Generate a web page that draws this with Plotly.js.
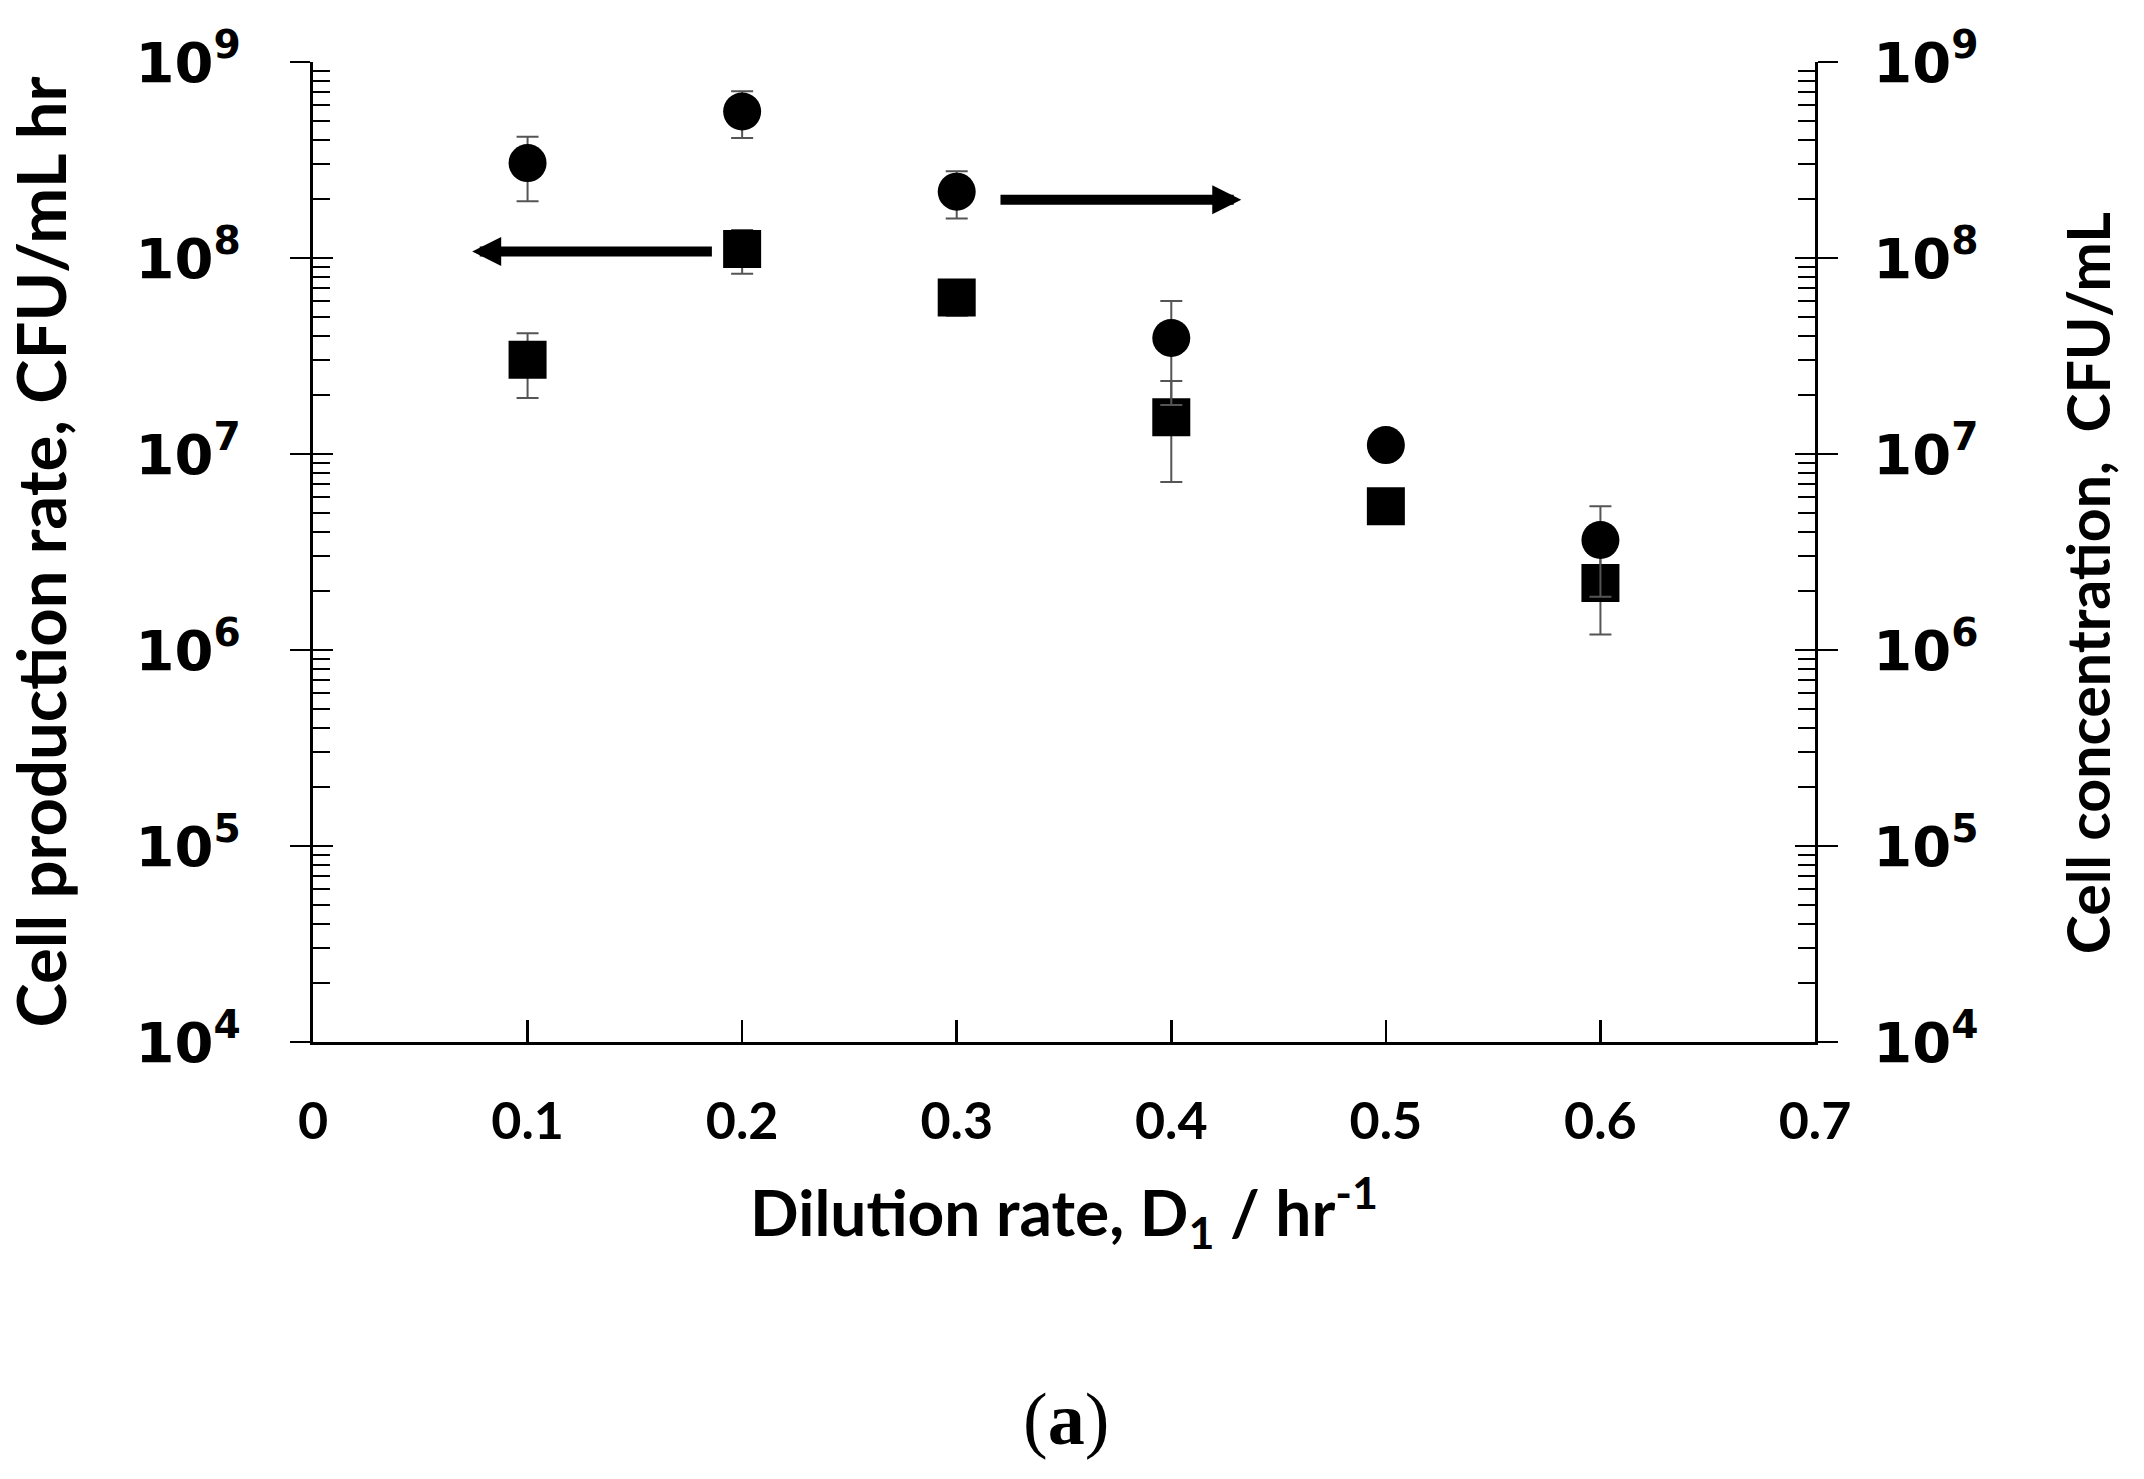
<!DOCTYPE html>
<html>
<head>
<meta charset="utf-8">
<script src="https://cdn.plot.ly/plotly-3.0.1.min.js"></script>
<style>html,body{margin:0;padding:0;background:#fff;}#chart{width:2144px;height:1479px;}</style>
</head>
<body>
<div id="chart"></div>
<script>
// ---- data ----
const dilution = [0.1, 0.2, 0.3, 0.4, 0.5, 0.6];
const productionRate = [3.03e7, 1.11e8, 6.28e7, 1.54e7, 5.42e6, 2.2e6];      // squares, left axis
const productionErr  = [1.1e7, 2.8e7, 1.2e7, 8.2e6, 0, 1.0e6];
const concentration  = [3.05e8, 5.59e8, 2.18e8, 3.91e7, 1.11e7, 3.64e6];     // circles, right axis
const concentrationErr = [1.1e8, 1.5e8, 5.9e7, 2.13e7, 0, 1.77e6];

const xTickVals = [0, 0.1, 0.2, 0.3, 0.4, 0.5, 0.6, 0.7];
const xTickText = ['0', '0.1', '0.2', '0.3', '0.4', '0.5', '0.6', '0.7'];
const yTickVals = [1e4, 1e5, 1e6, 1e7, 1e8, 1e9];
const yTickText = ['10<sup>4</sup>', '10<sup>5</sup>', '10<sup>6</sup>', '10<sup>7</sup>', '10<sup>8</sup>', '10<sup>9</sup>'];

const leftTitle = 'Cell production rate, CFU/mL hr';
const rightTitle = 'Cell concentration,  CFU/mL';
const xTitle = 'Dilution rate, D<sub>1</sub> / hr<sup>-1</sup>';

const minorVals = [];
for (let d = 4; d < 9; d++) { for (let k = 2; k <= 9; k++) minorVals.push(k * Math.pow(10, d)); }

const tickFontY = {family: 'DejaVu Sans', size: 56, color: '#000', weight: 'bold'};
const titleFontL = {family: 'Lato', size: 67, color: '#000', weight: 'bold'};
const titleFontR = {family: 'Lato', size: 59, color: '#000', weight: 'bold'};
const titleFontX = {family: 'Lato', size: 64, color: '#000', weight: 'bold'};

const errStyle = {color: '#555', thickness: 2, width: 11};

const traces = [
  {
    x: dilution, y: productionRate, type: 'scatter', mode: 'markers', name: 'Cell production rate',
    xaxis: 'x', yaxis: 'y',
    marker: {symbol: 'square', size: 38, color: '#000'},
    error_y: Object.assign({type: 'data', array: productionErr, symmetric: true, visible: true}, errStyle),
    hoverinfo: 'x+y'
  },
  {
    x: dilution, y: concentration, type: 'scatter', mode: 'markers', name: 'Cell concentration',
    xaxis: 'x', yaxis: 'y2',
    marker: {symbol: 'circle', size: 38, color: '#000'},
    error_y: Object.assign({type: 'data', array: concentrationErr, symmetric: true, visible: true}, errStyle),
    hoverinfo: 'x+y'
  },
  // empty helper traces so the inside-tick overlay axes are drawn
  {x: [], y: [], type: 'scatter', mode: 'markers', xaxis: 'x', yaxis: 'y3', showlegend: false, hoverinfo: 'skip'},
  {x: [], y: [], type: 'scatter', mode: 'markers', xaxis: 'x', yaxis: 'y4', showlegend: false, hoverinfo: 'skip'}
];

const baseY = {
  type: 'log', range: [4, 9], showgrid: false, zeroline: false,
  tickmode: 'array', tickvals: yTickVals
};

const layout = {
  width: 2144, height: 1479,
  margin: {l: 313, r: 329, t: 62, b: 437, pad: 0},
  paper_bgcolor: '#fff', plot_bgcolor: '#fff',
  showlegend: false,
  xaxis: {
    range: [0, 0.7], tickmode: 'array', tickvals: xTickVals, ticktext: xTickText,
    ticks: 'inside', ticklen: 22, tickwidth: 2.5, tickcolor: '#000',
    showline: true, linewidth: 3, linecolor: '#000', showgrid: false, zeroline: false,
    tickfont: {family: 'Lato', size: 52, color: '#000', weight: 'bold'},
    ticklabelstandoff: 32,
    title: {text: xTitle, font: titleFontX, standoff: 42}
  },
  yaxis: Object.assign({}, baseY, {
    side: 'left', ticktext: yTickText, tickfont: tickFontY,
    ticks: 'outside', ticklen: 20, tickwidth: 2.5, tickcolor: '#000',
    showline: true, linewidth: 3, linecolor: '#000',
    minor: {tickmode: 'array', tickvals: minorVals, ticks: 'inside', ticklen: 17, tickwidth: 2, tickcolor: '#000'},
    ticklabelstandoff: 38,
    title: {text: leftTitle, font: titleFontL, standoff: 56}
  }),
  yaxis3: Object.assign({}, baseY, {
    overlaying: 'y', side: 'left', showticklabels: false,
    ticks: 'inside', ticklen: 20, tickwidth: 2.5, tickcolor: '#000', showline: false
  }),
  yaxis2: Object.assign({}, baseY, {
    overlaying: 'y', side: 'right', ticktext: yTickText, tickfont: tickFontY,
    ticks: 'outside', ticklen: 20, tickwidth: 2.5, tickcolor: '#000',
    showline: true, linewidth: 3, linecolor: '#000',
    minor: {tickmode: 'array', tickvals: minorVals, ticks: 'inside', ticklen: 17, tickwidth: 2, tickcolor: '#000'},
    ticklabelstandoff: 24
  }),
  yaxis4: Object.assign({}, baseY, {
    overlaying: 'y', side: 'right', showticklabels: false,
    ticks: 'inside', ticklen: 20, tickwidth: 2.5, tickcolor: '#000', showline: false
  }),
  annotations: [
    {
      xref: 'x', yref: 'y', axref: 'x', ayref: 'y',
      x: 0.0742, y: Math.log10(1.08e8), ax: 0.1866, ay: Math.log10(1.08e8),
      text: '', showarrow: true, arrowhead: 2, arrowsize: 0.58, arrowwidth: 10, arrowcolor: '#000', standoff: 0
    },
    {
      xref: 'x', yref: 'y', axref: 'x', ayref: 'y',
      x: 0.4326, y: Math.log10(1.98e8), ax: 0.3197, ay: Math.log10(1.98e8),
      text: '', showarrow: true, arrowhead: 2, arrowsize: 0.58, arrowwidth: 10, arrowcolor: '#000', standoff: 0
    },
    {
      xref: 'paper', yref: 'paper', x: 1.181, y: 0.468, xanchor: 'center', yanchor: 'middle',
      text: rightTitle, textangle: -90, showarrow: false, font: titleFontR
    },
    {
      xref: 'paper', yref: 'paper', x: 0.501, y: -0.385, xanchor: 'center', yanchor: 'middle',
      text: '(<b>a</b>)', showarrow: false,
      font: {family: 'Liberation Serif', size: 74, color: '#000'}
    }
  ]
};

Plotly.newPlot('chart', traces, layout, {staticPlot: true, displayModeBar: false});
</script>
</body>
</html>
